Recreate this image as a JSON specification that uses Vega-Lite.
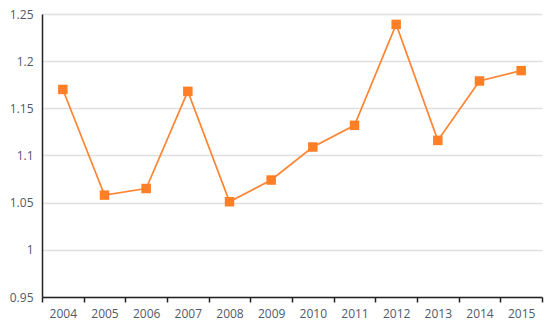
{
  "$schema": "https://vega.github.io/schema/vega-lite/v6.json",
  "autosize": {"type": "none"},
  "width": 500,
  "height": 283,
  "padding": {"left": 42, "top": 14, "right": 8, "bottom": 31},
  "background": "white",
  "config": {
    "view": {"stroke": null},
    "font": "Open Sans"
  },
  "data": {
    "values": [
      {"year": "2004", "value": 1.170},
      {"year": "2005", "value": 1.058},
      {"year": "2006", "value": 1.065},
      {"year": "2007", "value": 1.168},
      {"year": "2008", "value": 1.051},
      {"year": "2009", "value": 1.074},
      {"year": "2010", "value": 1.109},
      {"year": "2011", "value": 1.132},
      {"year": "2012", "value": 1.239},
      {"year": "2013", "value": 1.116},
      {"year": "2014", "value": 1.179},
      {"year": "2015", "value": 1.190}
    ]
  },
  "encoding": {
    "x": {
      "field": "year",
      "type": "ordinal",
      "scale": {"type": "band", "paddingInner": 0, "paddingOuter": 0},
      "axis": {
        "title": null,
        "labelAngle": 0,
        "tickBand": "extent",
        "domainColor": "#222",
        "domainWidth": 1.5,
        "tickColor": "#222",
        "tickWidth": 1.5,
        "tickSize": 5,
        "labelFontSize": 12,
        "labelColor": "#505a6a",
        "labelPadding": 6,
        "grid": false
      }
    },
    "y": {
      "field": "value",
      "type": "quantitative",
      "scale": {"domain": [0.95, 1.25], "nice": false, "zero": false},
      "axis": {
        "title": null,
        "values": [0.95, 1, 1.05, 1.1, 1.15, 1.2, 1.25],
        "format": "~g",
        "ticks": false,
        "domainColor": "#222",
        "domainWidth": 1.5,
        "labelFontSize": 12,
        "labelColor": "#505a6a",
        "labelPadding": 9,
        "gridColor": "#e0e0e0",
        "gridWidth": 1.5
      }
    }
  },
  "layer": [
    {
      "mark": {"type": "line", "color": "#ff8533", "strokeWidth": 1.7}
    },
    {
      "mark": {"type": "point", "shape": "square", "filled": true, "size": 90, "color": "#ff7f27", "opacity": 1}
    }
  ]
}
